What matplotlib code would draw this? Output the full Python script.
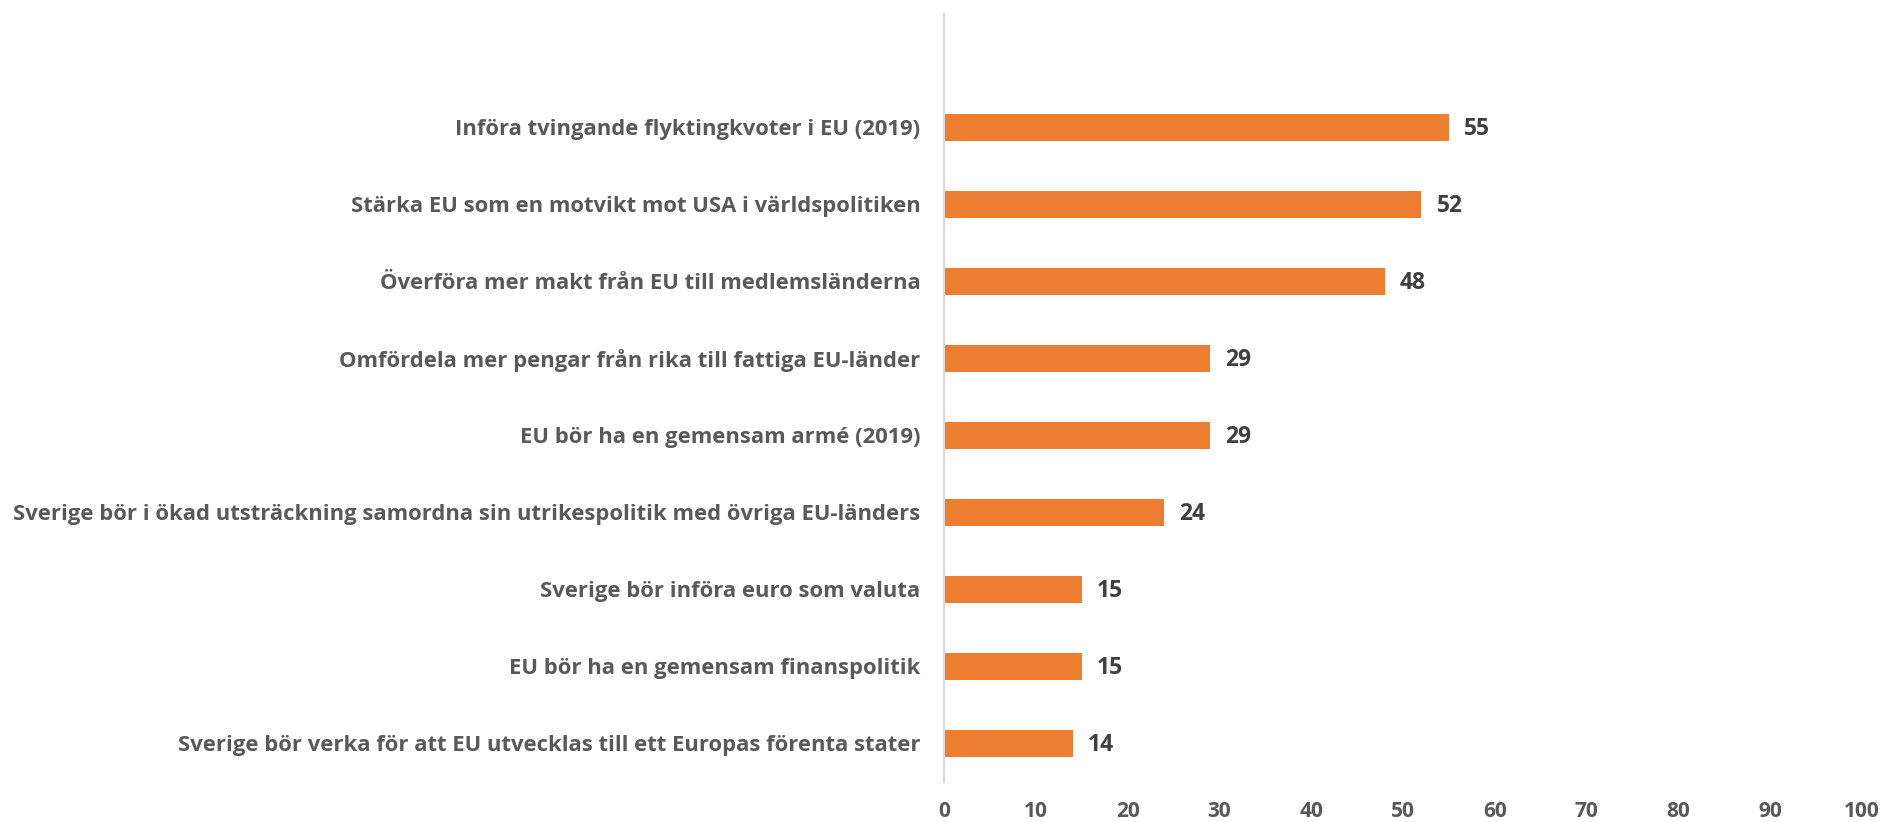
import matplotlib.pyplot as plt
import numpy as np

# data, top to bottom as in the chart
labels = [
    'Införa tvingande flyktingkvoter i EU (2019)',
    'Stärka EU som en motvikt mot USA i världspolitiken',
    'Överföra mer makt från EU till medlemsländerna',
    'Omfördela mer pengar från rika till fattiga EU-länder',
    'EU bör ha en gemensam armé (2019)',
    'Sverige bör i ökad utsträckning samordna sin utrikespolitik med övriga EU-länders',
    'Sverige bör införa euro som valuta',
    'EU bör ha en gemensam finanspolitik',
    'Sverige bör verka för att EU utvecklas till ett Europas förenta stater',
]
values = [55, 52, 48, 29, 29, 24, 15, 15, 14]
xticks = [0, 10, 20, 30, 40, 50, 60, 70, 80, 90, 100]

plt.rcParams['font.family'] = ['Open Sans', 'DejaVu Sans']

fig = plt.figure(figsize=(18.81, 8.22), dpi=100)
ax = fig.add_axes([944 / 1881, 1 - 782 / 822, (1862 - 944) / 1881, (782 - 14) / 822])

y = np.arange(len(labels))[::-1]
ax.barh(y, values, height=0.35, color='#ED7D31')

for yi, v in zip(y, values):
    ax.annotate(str(v), (v, yi), xytext=(11, -1), textcoords='offset points',
                va='center', ha='left', fontsize=16.5, fontweight='bold', color='#404040')

ax.set_xlim(0, 100)
ax.set_ylim(-0.5, 8 + 1.47)
ax.set_yticks(y)
ax.set_yticklabels(labels, fontsize=15.8, fontweight='bold', color='#595959')
ax.set_xticks(xticks)
ax.set_xticklabels([str(t) for t in xticks], fontsize=15, fontweight='bold', color='#595959')

ax.tick_params(axis='y', length=0, pad=17)
ax.tick_params(axis='x', length=0, pad=14)
for s in ['top', 'right', 'bottom']:
    ax.spines[s].set_visible(False)
ax.spines['left'].set_color('#D9D9D9')
ax.spines['left'].set_linewidth(1.5)

fig.savefig('out.png', dpi=100)
